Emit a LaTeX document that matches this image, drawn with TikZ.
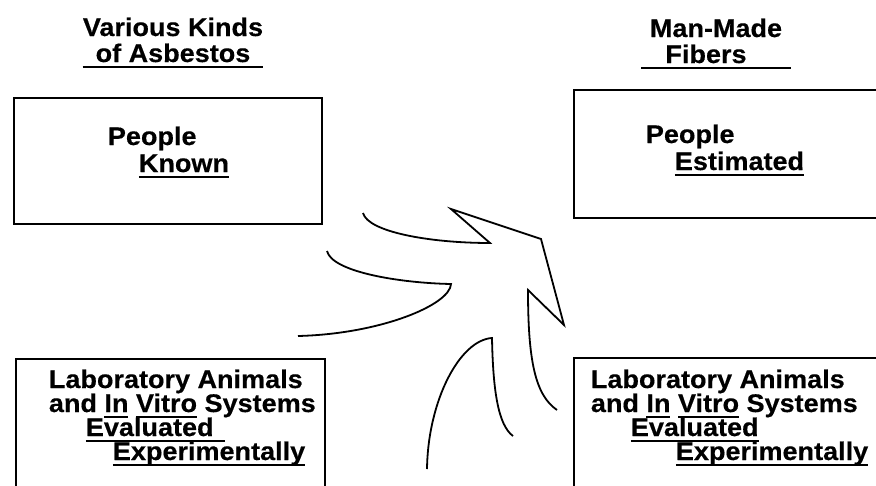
\documentclass[tikz,border=0pt]{standalone}
\usepackage{fontspec}
\setmainfont{Liberation Sans}[FakeStretch=1.06,FakeBold=0.4]
\usetikzlibrary{positioning}
\newcommand{\undl}[1]{\setbox0=\hbox{#1}\rlap{\rule[-6pt]{\wd0}{1.8pt}}\box0\relax}

\begin{document}
\begin{tikzpicture}[x=1pt,y=-1pt,line width=1.8pt,
	txt/.style={font=\fontsize{25.5}{28}\selectfont\bfseries,inner sep=0pt,anchor=base west},
	head/.style={txt,anchor=base},
	frame/.style={draw,line width=1.6pt,anchor=north west,inner sep=0pt}]
	\useasboundingbox (0,0) rectangle (876,485);
	% headings
	\node[head] (asb_h1) at (173,36) {Various Kinds};
	\node[head] (asb_h2) at (173,62) {\undl{\hspace*{13pt}of Asbestos\hspace*{13pt}}};
	\node[head] (mmf_h1) at (716,37) {Man-Made};
	\node[head] (mmf_h2) at (716,63) {\undl{\hspace*{24pt}Fibers\hspace*{44pt}}};
	% boxes
	\node[frame,minimum width=308pt,minimum height=126pt] (asb_people) at (13,97) {};
	\node[frame,minimum width=320pt,minimum height=128pt] (mmf_people) at (573,89) {};
	\node[frame,minimum width=309pt,minimum height=150pt] (asb_lab) at (15,358) {};
	\node[frame,minimum width=320pt,minimum height=150pt] (mmf_lab) at (573,357) {};
	% box texts
	\node[txt] (asb_p1) at (107,145) {People};
	\node[txt] (asb_p2) at (138,172) {\undl{Known}};
	\node[txt] (mmf_p1) at (645,143) {People};
	\node[txt] (mmf_p2) at (674,170) {\undl{Estimated}};
	\node[txt] (asb_l1) at (48,388) {Laboratory Animals};
	\node[txt] (asb_l2) at (48,412) {and \undl{In} \undl{Vitro} Systems};
	\node[txt] (asb_l3) at (85,436) {\undl{Evaluated\hspace*{11pt}}};
	\node[txt] (asb_l4) at (112,460) {\undl{Experimentally}};
	\node[txt] (mmf_l1) at (590,388) {Laboratory Animals};
	\node[txt] (mmf_l2) at (590,412) {and \undl{In} \undl{Vitro} Systems};
	\node[txt] (mmf_l3) at (630,436) {\undl{Evaluated}};
	\node[txt] (mmf_l4) at (675,460) {\undl{Experimentally}};
	% the big arrow
	\draw (557,410) .. controls (535,395) and (528,360) .. (528,290)
		-- (564,325) -- (541,239) -- (451,209) -- (490,243)
		.. controls (430,243) and (368,232) .. (363,213);
	\draw (327,251) .. controls (332,272) and (400,283) .. (451,284)
		.. controls (450,305) and (380,334) .. (298,336);
	\draw (427,469) .. controls (428,400) and (460,340) .. (492,338)
		.. controls (493,390) and (498,425) .. (513,436);
\end{tikzpicture}
\end{document}
